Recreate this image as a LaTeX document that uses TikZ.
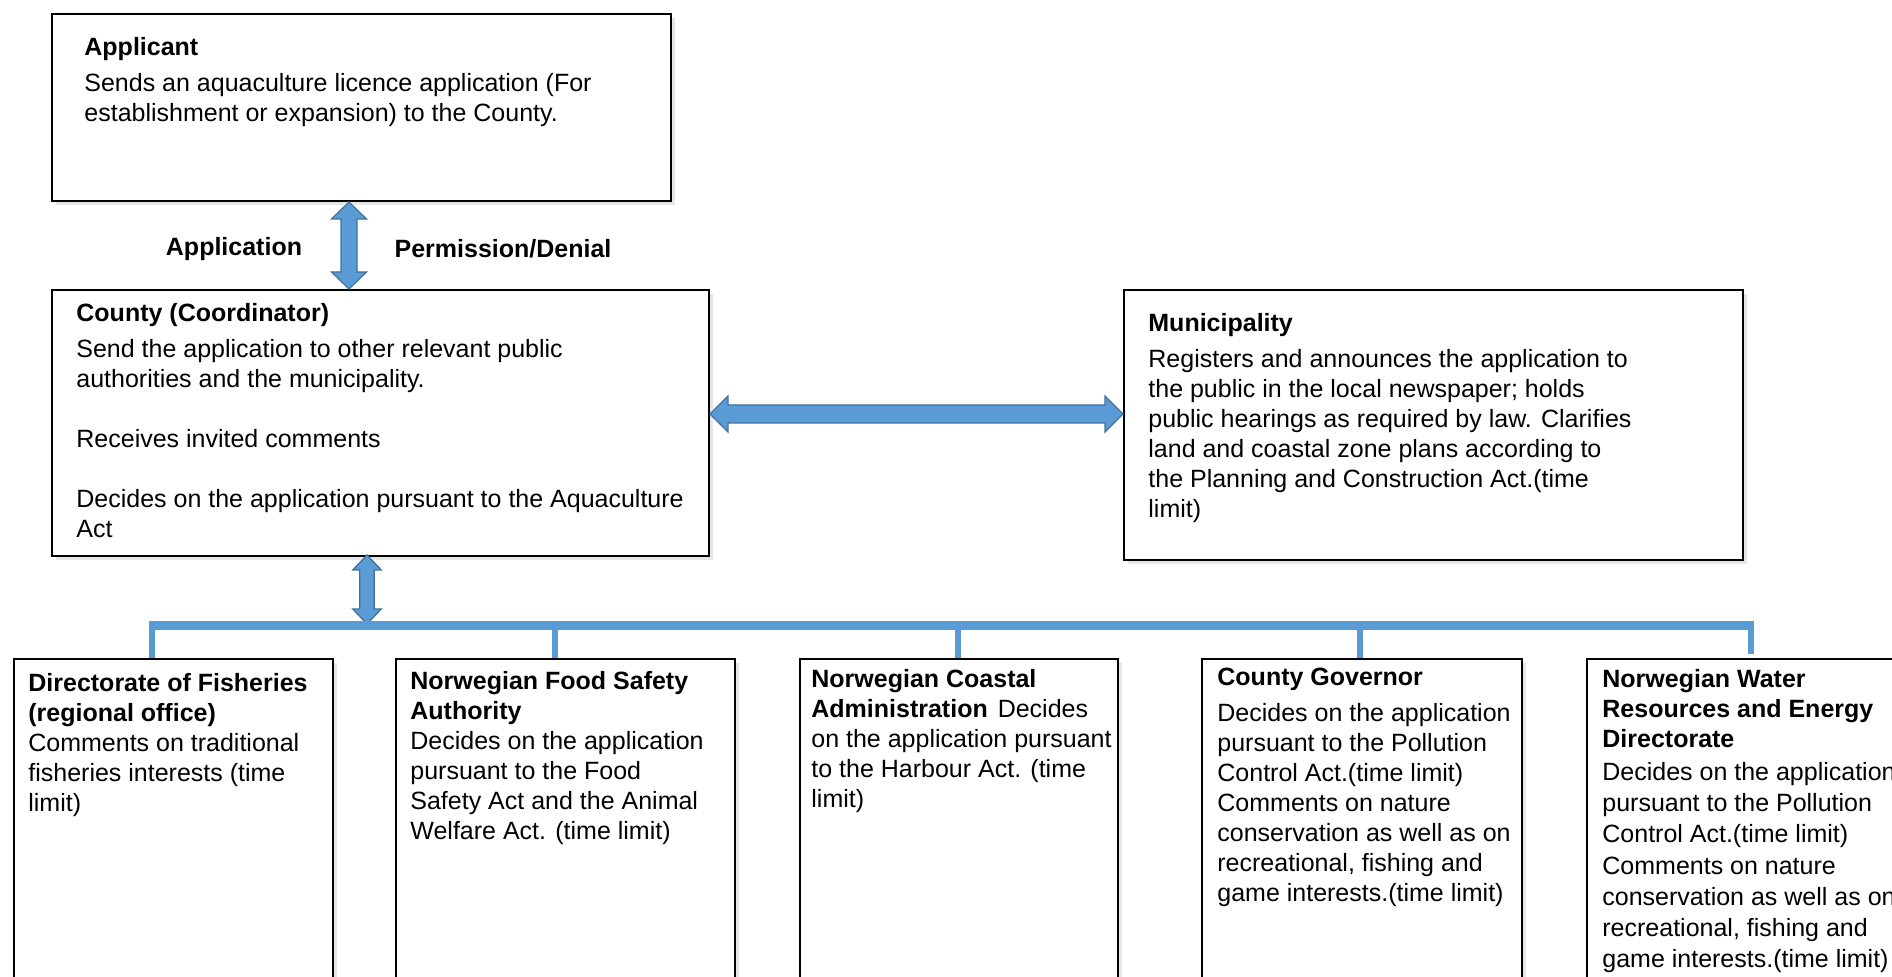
\documentclass[tikz,border=0pt]{standalone}
\usepackage{fontspec}
\setmainfont{Liberation Sans}
\usetikzlibrary{calc,shadows}
\definecolor{arrowblue}{HTML}{5B9BD5}
\definecolor{arrowedge}{HTML}{41719C}
\begin{document}
\begin{tikzpicture}[x=0.5pt,y=-0.5pt,
  box/.style={draw=black, line width=1pt, fill=white, anchor=north west, inner sep=0pt,
    drop shadow={opacity=0.2, shadow xshift=1.8pt, shadow yshift=-1.8pt}},
  txt/.style={anchor=north west, inner sep=0pt, align=left, font=\fontsize{12.5pt}{15pt}\selectfont},
  lbl/.style={font=\fontsize{12.5pt}{15pt}\selectfont\bfseries, inner sep=0pt},
  bus/.style={draw=arrowblue, line width=4.5pt},
  drop/.style={draw=arrowblue, line width=3pt},
  blockarrow/.style={fill=arrowblue, draw=arrowedge, line width=0.6pt, line join=miter}
]
\useasboundingbox (0,0) rectangle (1892,977);
\clip (0,0) rectangle (1892,977);

% boxes
\node[box, minimum width=309.5pt, minimum height=93.5pt] (app) at (51,13) {};
\node[box, minimum width=328.5pt, minimum height=133pt] (county) at (51,289) {};
\node[box, minimum width=309.5pt, minimum height=135pt] (muni) at (1123,289) {};
\node[box, minimum width=159.5pt, minimum height=180pt] (b1) at (13,658) {};
\node[box, minimum width=169.5pt, minimum height=180pt] (b2) at (395,658) {};
\node[box, minimum width=159pt, minimum height=180pt] (b3) at (799,658) {};
\node[box, minimum width=160pt, minimum height=180pt] (b4) at (1201,658) {};
\node[box, minimum width=170pt, minimum height=180pt] (b5) at (1586,658) {};

% texts
\node[txt] (appT) at (84,37) {\textbf{Applicant}\\[3pt]
Sends an aquaculture licence application (For\\
establishment or expansion) to the County.};
\node[txt] (countyT) at (76,303) {\textbf{County (Coordinator)}\\[3pt]
Send the application to other relevant public\\
authorities and the municipality.\\[15pt]
Receives invited comments\\[15pt]
Decides on the application pursuant to the Aquaculture\\
Act};
\node[txt] (muniT) at (1148,313) {\textbf{Municipality}\\[3pt]
Registers and announces the application to\\
the public in the local newspaper; holds\\
public hearings as required by law. Clarifies\\
land and coastal zone plans according to\\
the Planning and Construction Act.(time\\
limit)};
\node[txt] (b1T) at (28,673) {\textbf{Directorate of Fisheries}\\
\textbf{(regional office)}\\
Comments on traditional\\
fisheries interests (time\\
limit)};
\node[txt] (b2T) at (410,671) {\textbf{Norwegian Food Safety}\\
\textbf{Authority}\\
Decides on the application\\
pursuant to the Food\\
Safety Act and the Animal\\
Welfare Act. (time limit)};
\node[txt] (b3T) at (811,669) {\textbf{Norwegian Coastal}\\
\textbf{Administration}\hspace{5pt}Decides\\
on the application pursuant\\
to the Harbour Act. (time\\
limit)};
\node[txt] (b4T) at (1217,668) {\textbf{County Governor}\\[3pt]
Decides on the application\\
pursuant to the Pollution\\
Control Act.(time limit)\\
Comments on nature\\
conservation as well as on\\
recreational, fishing and\\
game interests.(time limit)};
\node[txt] (b5T) at (1602,669) {\textbf{Norwegian Water}\\
\textbf{Resources and Energy}\\
\textbf{Directorate}\\[1.5pt]
Decides on the application\\[0.6pt]
pursuant to the Pollution\\[0.6pt]
Control Act.(time limit)\\[0.6pt]
Comments on nature\\[0.6pt]
conservation as well as on\\[0.6pt]
recreational, fishing and\\[0.6pt]
game interests.(time limit)};

% labels
\node[lbl] (lapp) at (234,249) {Application};
\node[lbl] (lperm) at (503,249) {Permission/Denial};

% top vertical double arrow (applicant <-> county)
\path[blockarrow] let \p1=([xshift=149pt]app.south west), \p2=([xshift=149pt]county.north west) in
  (\x1,\y1) -- (\x1+8.75pt,\y1-8.5pt) -- (\x1+4pt,\y1-8.5pt) -- (\x1+4pt,\y2+8.5pt)
  -- (\x1+8.75pt,\y2+8.5pt) -- (\x1,\y2) -- (\x1-8.75pt,\y2+8.5pt) -- (\x1-4pt,\y2+8.5pt)
  -- (\x1-4pt,\y1-8.5pt) -- (\x1-8.75pt,\y1-8.5pt) -- cycle;

% horizontal double arrow (county <-> municipality)
\path[blockarrow] let \p1=([yshift=-62.5pt]county.north east), \p2=([yshift=-62.5pt]muni.north west) in
  (\x1,\y1) -- (\x1+9pt,\y1+9pt) -- (\x1+9pt,\y1+4.5pt) -- (\x2-9pt,\y1+4.5pt)
  -- (\x2-9pt,\y1+9pt) -- (\x2,\y1) -- (\x2-9pt,\y1-9pt) -- (\x2-9pt,\y1-4.5pt)
  -- (\x1+9pt,\y1-4.5pt) -- (\x1+9pt,\y1-9pt) -- cycle;

% bus junctions
\coordinate (j1) at (152,626);
\coordinate (j2) at (555,626);
\coordinate (j3) at (958,626);
\coordinate (j4) at (1360,626);
\coordinate (j5) at (1751,626);
\coordinate (jc) at (367,624);

% lower vertical double arrow (county <-> bus)
\path[blockarrow] let \p1=([xshift=158pt,yshift=1pt]county.south west), \p2=(jc) in
  (\x1,\y1) -- (\x1+7.15pt,\y1-7.5pt) -- (\x1+3.65pt,\y1-7.5pt) -- (\x1+3.65pt,\y2+7.5pt)
  -- (\x1+7.15pt,\y2+7.5pt) -- (\x1,\y2) -- (\x1-7.15pt,\y2+7.5pt) -- (\x1-3.65pt,\y2+7.5pt)
  -- (\x1-3.65pt,\y1-7.5pt) -- (\x1-7.15pt,\y1-7.5pt) -- cycle;

% bus and drops
\draw[bus] ([xshift=-1.5pt]j1) -- ([xshift=1.5pt]j5);
\draw[drop] (j1) -- (j1 |- b1.north);
\draw[drop] (j2) -- (j2 |- b2.north);
\draw[drop] (j3) -- (j3 |- b3.north);
\draw[drop] (j4) -- (j4 |- b4.north);
\draw[drop] (j5) -- ([yshift=2pt]j5 |- b5.north);
\end{tikzpicture}
\end{document}
